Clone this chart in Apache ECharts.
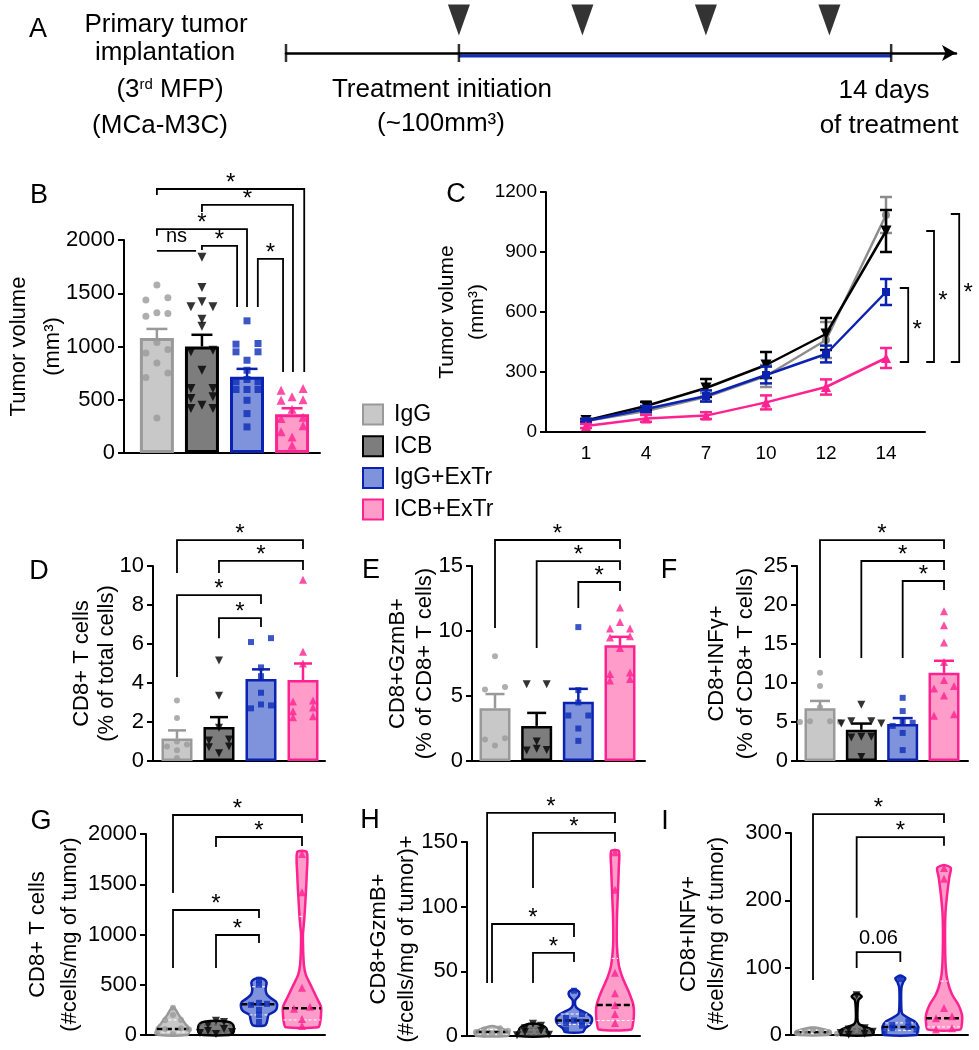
<!DOCTYPE html>
<html><head><meta charset="utf-8"><title>chart</title>
<script src="https://cdn.jsdelivr.net/npm/echarts@6.0.0/dist/echarts.min.js"></script>
<style>html,body{margin:0;padding:0;background:#fff;}#chart{width:979px;height:1050px;}</style>
</head><body><div id="chart"></div>
<script>
const FF = "'Liberation Sans', Arial, Helvetica, sans-serif";
const groups = ['IgG', 'ICB', 'IgG+ExTr', 'ICB+ExTr'];

// ---------- data ----------
const doseDays = [0, 4, 8, 12];
const timelineMarks = [-5.6, 0, 14];

const bMean = [1080, 1000, 715, 365];
const bSem = [85, 110, 75, 55];
const bPts = [
  [1577, 1458, 1436, 1317, 1310, 1285, 1038, 972, 940, 846, 752, 708, 329],
  [1837, 1555, 1420, 1373, 1373, 1257, 1191, 965, 950, 777, 605, 605, 527, 511, 448, 417, 417],
  [1241, 1028, 1022, 950, 950, 871, 777, 690, 668, 668, 596, 596, 596, 495, 370, 245],
  [605, 589, 527, 500, 495, 410, 335, 325, 255, 200, 150, 72]
];
const bBrackets = [
  [0, 3.27, 2479, 2423, 761, '*'],
  [1, 3.02, 2329, 2263, 761, '*'],
  [0, 2.0, 2103, 2040, 1371, '*'],
  [1, 1.78, 1944, 1906, 1371, '*'],
  [0, 0.87, 1897, 1897, 1897, 'ns'],
  [2.24, 2.8, 1822, 1371, 761, '*']
];

const cDays = ['1', '4', '7', '10', '12', '14'];
const cMean = [
  [55, 105, 175, 280, 460, 1085],
  [58, 130, 220, 335, 490, 1005],
  [55, 115, 180, 285, 390, 700],
  [30, 68, 82, 148, 225, 370]
];
const cSem = [
  [8, 12, 20, 55, 90, 90],
  [8, 20, 45, 65, 80, 105],
  [8, 15, 28, 42, 42, 65],
  [10, 17, 17, 35, 38, 50]
];
const cBrackets = [
  [5.23, 5.37, 720, 350, 5.52, 535, '*'],
  [5.67, 5.80, 1005, 350, 5.95, 680, '*'],
  [6.08, 6.22, 1090, 350, 6.37, 720, '*']
];

const dMean = [1.15, 1.75, 4.2, 4.15];
const dSem = [0.42, 0.5, 0.5, 0.85];
const dPts = [
  [3.1, 2.2, 1.0, 0.85, 0.75, 0.55, 0.15],
  [5.15, 3.35, 1.7, 1.1, 1.05, 0.75, 0.7, 0.4],
  [6.3, 6.1, 4.8, 4.35, 3.5, 2.9, 2.85, 2.7],
  [9.3, 5.6, 5.0, 3.1, 3.05, 2.75, 2.55, 2.3, 2.25]
];
const dBrackets = [
  [0, 3, 11.33, 9.64, 10.87, '*'],
  [1, 3, 10.26, 9.64, 9.8, '*'],
  [0, 2, 8.51, 4.31, 8.05, '*'],
  [1, 2, 7.33, 6.3, 6.87, '*']
];

const eMean = [4.05, 2.7, 4.55, 8.9];
const eSem = [1.1, 1.0, 1.0, 0.65];
const ePts = [
  [8.05, 5.7, 5.5, 1.75, 1.65, 1.2],
  [5.9, 5.9, 1.5, 0.95, 0.85, 0.8],
  [10.3, 5.45, 4.5, 3.5, 3.5, 2.5, 1.55],
  [11.8, 10.7, 10.2, 10.2, 9.6, 9.5, 8.7, 6.8, 6.7, 6.3, 6.2]
];
const eBrackets = [
  [0, 3, 17.0, 10.23, 16.3, '*'],
  [1, 3, 15.38, 8.69, 14.7, '*'],
  [2, 3, 13.77, 11.77, 13.08, '*']
];

const fMean = [6.75, 4.0, 4.75, 11.3];
const fSem = [0.95, 0.8, 0.75, 1.55];
const fPts = [
  [11.3, 9.6, 6.9, 5.1, 5.1, 5.0, 5.0],
  [7.2, 5.1, 5.1, 4.8, 4.8, 3.1, 3.1, 3.0, 0.5],
  [8.1, 6.4, 5.0, 4.9, 4.5, 3.6, 1.4],
  [19.2, 17.4, 15.2, 12.7, 10.4, 9.6, 9.3, 8.4, 6.0, 5.8]
];
const fBrackets = [
  [0, 3, 28.33, 13.2, 27.18, '*'],
  [1, 3, 25.64, 13.2, 24.49, '*'],
  [2, 3, 23.08, 13.2, 21.92, '*']
];

const gPts = [
  [270, 200, 150, 148, 66, 60, 55, 20, 10],
  [143, 130, 100, 60, 40, 30, 20, 10],
  [550, 500, 320, 310, 300, 250, 200, 130],
  [1800, 1420, 470, 280, 260, 160, 90]
];
const gViolin = [
  [[0, 0.75], [30, 0.85], [66, 0.85], [110, 0.65], [150, 0.5], [200, 0.3], [250, 0.15], [272, 0.05]],
  [[0, 0.7], [20, 0.9], [60, 0.95], [100, 0.9], [125, 0.75], [140, 0.3]],
  [[95, 0.3], [120, 0.4], [160, 0.45], [200, 0.5], [240, 0.85], [280, 0.95], [330, 0.9], [370, 0.6], [410, 0.4], [460, 0.35], [520, 0.4], [550, 0.3], [565, 0.1]],
  [[76, 0.85], [120, 0.95], [200, 1.0], [280, 1.0], [380, 0.75], [480, 0.5], [600, 0.2], [700, 0.1], [850, 0.06], [1000, 0.05], [1150, 0.12], [1400, 0.2], [1600, 0.25], [1820, 0.25]]
];
const gMedian = [60, 40, 305, 265];
const gQuart = [[30, 150], [20, 100], [200, 480], [150, 1180]];
const gBrackets = [
  [0, 3, 2189, 1413, 2109, '*'],
  [1, 3, 1970, 1871, 1881, '*'],
  [0, 2, 1244, 667, 1164, '*'],
  [1, 2, 995, 667, 915, '*']
];

const hPts = [
  [6, 5, 4, 3, 2, 1.5, 1],
  [9.5, 8, 6, 4, 3, 1, 0.5],
  [35, 17, 14, 12, 11, 10, 8, 5],
  [142, 113, 49, 33, 24, 17, 10]
];
const hViolin = [
  [[0, 0.8], [2, 0.9], [4, 0.8], [6, 0.45], [7.5, 0.1]],
  [[0, 0.8], [2, 0.85], [4, 0.75], [6, 0.7], [8, 0.5], [9.5, 0.2]],
  [[3, 0.45], [6, 0.6], [9, 0.85], [12, 0.95], [15, 0.9], [18, 0.6], [21, 0.2], [24, 0.06], [28, 0.08], [31, 0.25], [34, 0.27], [36, 0.05]],
  [[5, 0.85], [10, 0.95], [18, 1.0], [25, 0.95], [35, 0.7], [45, 0.4], [55, 0.2], [70, 0.1], [90, 0.1], [110, 0.15], [130, 0.2], [143, 0.2]]
];
const hMedian = [3, 3, 12, 24];
const hQuart = [[1.5, 5], [1, 6], [9, 17], [12, 60]];
const hBrackets = [
  [-0.12, 3, 172.5, 41, 164.7, '*'],
  [1, 3, 157, 114.5, 150, '*'],
  [0, 2, 86.6, 41, 76.6, '*'],
  [1, 2, 64.2, 41, 57.2, '*']
];

const iPts = [
  [8, 6, 5, 4, 3, 2, 1],
  [59, 10, 8, 5, 3, 2, 0.5],
  [83, 20, 15, 12, 10, 8, 5],
  [248, 232, 40, 28, 25, 10, 8]
];
const iViolin = [
  [[0, 0.8], [3, 1], [6, 0.9], [9, 0.5], [11, 0.1]],
  [[0, 0.85], [4, 0.95], [8, 0.85], [12, 0.5], [16, 0.15], [22, 0.05], [40, 0.05], [52, 0.1], [57, 0.28], [61, 0.1]],
  [[0, 0.9], [5, 0.95], [12, 1], [20, 0.8], [26, 0.4], [32, 0.1], [45, 0.05], [70, 0.06], [78, 0.15], [84, 0.28], [88, 0.05]],
  [[8, 0.9], [18, 1], [30, 1], [45, 0.8], [60, 0.45], [80, 0.2], [100, 0.1], [140, 0.06], [180, 0.08], [210, 0.18], [235, 0.3], [248, 0.38], [252, 0.1]]
];
const iMedian = [4, 5, 12, 25];
const iQuart = [[2, 7], [2, 9], [7, 18], [12, 80]];
const iBrackets = [
  [0, 3, 328, 81.7, 315, '*'],
  [1, 3, 294, 174, 281, '*'],
  [1, 2, 123, 99.6, 108.5, '0.06']
];

// ---------- styles / layout ----------
const fillColors = ['#c8c8c8', '#7d7d7d', '#7f93dc', '#ff9cc9'];
const edgeColors = ['#999999', '#000000', '#0b22b0', '#ff2290'];
const pointColors = ['#9a9a9a', '#000000', '#0d2cb8', '#ff2290'];
const lineColors = ['#8c8c8c', '#000000', '#0b22b0', '#ff2290'];
const symbols = ['circle', 'triangle', 'rect', 'triangle'];
const symbolRot = [0, 180, 0, 0];

const L = {
  A: {left: 286, top: 3, width: 670, height: 50, xmin: -5.6, xmax: 16.1, ymax: 1},
  B: {left: 124, top: 240, width: 196, height: 213, xmin: -0.73, xmax: 3.62, ymax: 2000, int: 500},
  C: {left: 546, top: 192, width: 379, height: 240, xmin: -0.667, xmax: 5.65, ymax: 1200, int: 300},
  D: {left: 153, top: 566, width: 172, height: 195, xmin: -0.571, xmax: 3.524, ymax: 10, int: 2},
  E: {left: 472, top: 566, width: 173, height: 195, xmin: -0.552, xmax: 3.6, ymax: 15, int: 5},
  F: {left: 797, top: 566, width: 171, height: 195, xmin: -0.556, xmax: 3.58, ymax: 25, int: 5},
  G: {left: 146, top: 834, width: 179, height: 201, xmin: -0.628, xmax: 3.535, ymax: 2000, int: 500},
  H: {left: 467, top: 842, width: 173, height: 194, xmin: -0.61, xmax: 3.61, ymax: 150, int: 50},
  I: {left: 791, top: 833, width: 177, height: 202, xmin: -0.504, xmax: 3.55, ymax: 300, int: 100}
};
const keys = ['A', 'B', 'C', 'D', 'E', 'F', 'G', 'H', 'I'];
const GI = {}; keys.forEach((k, i) => GI[k] = i);

const yNames = {
  B: ['Tumor volume\n(mm³)', 54, 22, 34],
  C: ['Tumor volume\n(mm³)', 54, 21, 30],
  D: ['CD8+ T cells\n(% of total cells)', 34, 22, 25],
  E: ['CD8+GzmB+\n(% of CD8+ T cells)', 34, 22, 27],
  F: ['CD8+INFγ+\n(% of CD8+ T cells)', 37, 22, 29],
  G: ['CD8+ T cells\n(#cells/mg of tumor)', 60, 22, 32],
  H: ['CD8+GzmB+\n(#cells/mg of tumor)+', 46, 22, 28],
  I: ['CD8+INFγ+\n(#cells/mg of tumor)', 60, 22, 28]
};

const grids = keys.map(k => ({left: L[k].left, top: L[k].top, width: L[k].width, height: L[k].height, containLabel: false, outerBoundsMode: 'none'}));

const xAxes = keys.map(k => {
  const ax = {type: 'value', gridIndex: GI[k], min: L[k].xmin, max: L[k].xmax,
    axisLine: {show: true, onZero: false, lineStyle: {color: '#000', width: 2}},
    axisTick: {show: false}, axisLabel: {show: false}, splitLine: {show: false}};
  if (k === 'A') {
    ax.axisLine = {show: true, onZero: false, symbol: ['none', 'arrow'], symbolSize: [12, 14], lineStyle: {color: '#000', width: 2.5}};
  }
  if (k === 'C') {
    ax.axisLabel = {show: true, customValues: [0, 1, 2, 3, 4, 5], formatter: v => cDays[Math.round(v)], fontSize: 19, color: '#000', fontFamily: FF, margin: 12};
  }
  return ax;
});

const yAxes = keys.map(k => {
  if (k === 'A') return {type: 'value', gridIndex: 0, min: 0, max: 1, show: false};
  const n = yNames[k];
  return {type: 'value', gridIndex: GI[k], min: 0, max: L[k].ymax, interval: L[k].int,
    name: n[0], nameLocation: 'middle', nameRotate: 90, nameGap: n[1], nameMoveOverlap: false,
    nameTextStyle: {fontSize: n[2], lineHeight: n[3], color: '#000', fontFamily: FF},
    axisLine: {show: true, onZero: false, lineStyle: {color: '#000', width: 2}},
    axisTick: {show: true, inside: false, length: 6, lineStyle: {color: '#000', width: 2}},
    axisLabel: {fontSize: k === 'C' ? 19 : 22, color: '#000', fontFamily: FF, margin: 9, formatter: v => String(v)},
    splitLine: {show: false}};
});

// ---------- helpers ----------
function swarm(vals, pxY, binPx) {
  const s = vals.slice().sort((a, b) => b - a);
  const out = []; let bin = [];
  const flush = () => {
    const n = bin.length, offs = [];
    if (n % 2) offs.push(0);
    for (let k = 1; offs.length < n; k++) { offs.push(k); if (offs.length < n) offs.push(-k); }
    bin.forEach((v, j) => out.push([offs[j], v]));
    bin = [];
  };
  s.forEach(v => { if (bin.length && (bin[0] - v) * pxY > binPx) flush(); bin.push(v); });
  flush();
  return out;
}

function st(c, lw, dash) { const o = {stroke: c, lineWidth: lw, fill: null}; if (dash) o.lineDash = dash; return o; }

function errSeries(k, xs, means, sems, colorFn, capPx, lw, both, z) {
  return {type: 'custom', xAxisIndex: GI[k], yAxisIndex: GI[k], silent: true, z: z, clip: false,
    data: means.map((m, j) => [xs[j], m, sems[j]]),
    renderItem: (p, api) => {
      const x = api.value(0), m = api.value(1), s = api.value(2);
      const t = api.coord([x, m + s]);
      const b = api.coord([x, both ? m - s : m]);
      const c = colorFn(p.dataIndex);
      const ch = [
        {type: 'line', shape: {x1: t[0], y1: t[1], x2: b[0], y2: b[1]}, style: st(c, lw)},
        {type: 'line', shape: {x1: t[0] - capPx / 2, y1: t[1], x2: t[0] + capPx / 2, y2: t[1]}, style: st(c, lw)}
      ];
      if (both) ch.push({type: 'line', shape: {x1: b[0] - capPx / 2, y1: b[1], x2: b[0] + capPx / 2, y2: b[1]}, style: st(c, lw)});
      return {type: 'group', children: ch};
    }};
}

function bracketSeries(k, br) {
  return {type: 'custom', xAxisIndex: GI[k], yAxisIndex: GI[k], silent: true, z: 6, clip: false,
    data: br.map(b => [b[0], b[2]]),
    renderItem: (p, api) => {
      const [x1, x2, yT, yL, yR, lab] = br[p.dataIndex];
      const a = api.coord([x1, yL]), b = api.coord([x1, yT]), c = api.coord([x2, yT]), d = api.coord([x2, yR]);
      const star = lab === '*';
      return {type: 'group', children: [
        {type: 'polyline', shape: {points: [a, b, c, d]}, style: st('#000', 1.8)},
        {type: 'text', x: (b[0] + c[0]) / 2, y: star ? b[1] - 6 : b[1] - 4,
          style: {text: lab, fill: '#000', fontSize: star ? 24 : 20, fontFamily: FF, align: 'center', verticalAlign: star ? 'middle' : 'bottom'}}
      ]};
    }};
}

function vBracketSeries(k, br) {
  return {type: 'custom', xAxisIndex: GI[k], yAxisIndex: GI[k], silent: true, z: 6, clip: false,
    data: br.map(b => [b[1], b[2]]),
    renderItem: (p, api) => {
      const [xt, xl, yT, yB, xLab, yLab, lab] = br[p.dataIndex];
      const a = api.coord([xt, yT]), b = api.coord([xl, yT]), c = api.coord([xl, yB]), d = api.coord([xt, yB]);
      const t = api.coord([xLab, yLab]);
      return {type: 'group', children: [
        {type: 'polyline', shape: {points: [a, b, c, d]}, style: st('#000', 1.8)},
        {type: 'text', x: t[0], y: t[1] + 5, style: {text: lab, fill: '#000', fontSize: 24, fontFamily: FF, align: 'center', verticalAlign: 'middle'}}
      ]};
    }};
}

function violinSeries(k, profiles, medians, quarts, maxHw) {
  return {type: 'custom', xAxisIndex: GI[k], yAxisIndex: GI[k], silent: true, z: 2, clip: false,
    data: profiles.map((pr, i) => [i, pr[0][0]]),
    renderItem: (p, api) => {
      const i = p.dataIndex, pr = profiles[i];
      const c0 = api.coord([i, 0])[0];
      const R = pr.map(([v, d]) => [c0 + d * maxHw, api.coord([i, v])[1]]);
      const Lf = pr.slice().reverse().map(([v, d]) => [c0 - d * maxHw, api.coord([i, v])[1]]);
      const hw = v => {
        for (let j = 0; j < pr.length - 1; j++) {
          if (v >= pr[j][0] && v <= pr[j + 1][0]) {
            const t = (v - pr[j][0]) / (pr[j + 1][0] - pr[j][0]);
            return (pr[j][1] + t * (pr[j + 1][1] - pr[j][1])) * maxHw;
          }
        }
        return pr[0][1] * maxHw;
      };
      const ch = [{type: 'polygon', shape: {points: R.concat(Lf), smooth: 0.25},
        style: {fill: fillColors[i], stroke: edgeColors[i], lineWidth: 2.5}}];
      quarts[i].forEach(q => {
        const y = api.coord([i, q])[1], w = hw(q);
        ch.push({type: 'line', shape: {x1: c0 - w, y1: y, x2: c0 + w, y2: y}, style: st(i === 1 ? '#555' : '#ffffff', 1, [3, 2])});
      });
      const ym = api.coord([i, medians[i]])[1], wm = hw(medians[i]);
      ch.push({type: 'line', shape: {x1: c0 - wm, y1: ym, x2: c0 + wm, y2: ym}, style: st(i === 1 ? '#666' : '#000', 2.5, [6, 3])});
      return {type: 'group', children: ch};
    }};
}

function pointSeries(k, pts, binPx, stepPx, sizes) {
  const pxY = L[k].height / L[k].ymax;
  const pxX = L[k].width / (L[k].xmax - L[k].xmin);
  return groups.map((g, i) => ({type: 'scatter', xAxisIndex: GI[k], yAxisIndex: GI[k], silent: true, z: 4,
    data: swarm(pts[i], pxY, binPx).map(([slot, v]) => [i + slot * stepPx / pxX, v]),
    symbol: symbols[i], symbolRotate: symbolRot[i], symbolSize: sizes[i],
    itemStyle: {color: pointColors[i]}}));
}

const series = [];

// ---------- A: timeline ----------
series.push({type: 'line', xAxisIndex: 0, yAxisIndex: 0, data: [[timelineMarks[1], -0.06], [timelineMarks[2], -0.06]],
  symbol: 'none', lineStyle: {color: '#1530c0', width: 3}, clip: false, silent: true, z: 1});
series.push({type: 'scatter', xAxisIndex: 0, yAxisIndex: 0, data: timelineMarks.map(d => [d, 0]),
  symbol: 'rect', symbolSize: [2.5, 18], itemStyle: {color: '#000'}, clip: false, silent: true, z: 5});
series.push({type: 'scatter', xAxisIndex: 0, yAxisIndex: 0, data: doseDays.map(d => [d, 0.66]),
  symbol: 'triangle', symbolRotate: 180, symbolSize: [22, 31], itemStyle: {color: '#000'}, clip: false, silent: true});

// ---------- bar panels ----------
function barPanel(k, means, sems, pts, br, o) {
  groups.forEach((g, i) => {
    series.push({type: 'bar', name: g, xAxisIndex: GI[k], yAxisIndex: GI[k], data: [[i, means[i]]],
      barWidth: o.barW, barGap: '-100%', silent: true, z: 2,
      itemStyle: {color: fillColors[i], borderColor: edgeColors[i], borderWidth: o.bw}});
  });
  pointSeries(k, pts, o.bin, o.step, o.sizes).forEach(s => series.push(s));
  series.push(errSeries(k, [0, 1, 2, 3], means, sems, j => edgeColors[j], o.cap, 2.5, false, 5));
  series.push(bracketSeries(k, br));
}
barPanel('B', bMean, bSem, bPts, bBrackets, {barW: 34, bw: 3, bin: 6, step: 11, cap: 21, sizes: [7, 9, 7, 9]});
barPanel('D', dMean, dSem, dPts, dBrackets, {barW: 31, bw: 2.5, bin: 6, step: 10, cap: 18, sizes: [6, 8, 6, 8]});
barPanel('E', eMean, eSem, ePts, eBrackets, {barW: 31, bw: 2.5, bin: 6, step: 10, cap: 19, sizes: [6, 8, 6, 8]});
barPanel('F', fMean, fSem, fPts, fBrackets, {barW: 31, bw: 2.5, bin: 6, step: 10, cap: 20, sizes: [6, 8, 6, 8]});

// ---------- C: growth curves ----------
const cSym = [['circle', 8, 0], ['triangle', 11, 180], ['rect', 8, 0], ['triangle', 10, 0]];
groups.forEach((g, gi) => {
  series.push({type: 'line', name: g, xAxisIndex: GI.C, yAxisIndex: GI.C, silent: true, z: 3 + gi,
    data: cMean[gi].map((v, j) => [j, v]),
    symbol: cSym[gi][0], symbolSize: cSym[gi][1], symbolRotate: cSym[gi][2], showSymbol: true,
    lineStyle: {color: lineColors[gi], width: 2.5}, itemStyle: {color: lineColors[gi]}});
  series.push(errSeries('C', [0, 1, 2, 3, 4, 5], cMean[gi], cSem[gi], () => lineColors[gi], 12, 2.5, true, 3 + gi));
});
series.push(vBracketSeries('C', cBrackets));

// ---------- violin panels ----------
function violinPanel(k, profiles, medians, quarts, pts, br, maxHw) {
  series.push(violinSeries(k, profiles, medians, quarts, maxHw));
  pointSeries(k, pts, 5, 8, [6, 8, 6, 8]).forEach(s => series.push(s));
  series.push(bracketSeries(k, br));
}
violinPanel('G', gViolin, gMedian, gQuart, gPts, gBrackets, 19);
violinPanel('H', hViolin, hMedian, hQuart, hPts, hBrackets, 19);
violinPanel('I', iViolin, iMedian, iQuart, iPts, iBrackets, 18);

// ---------- legend ----------
const legends = groups.map((g, i) => ({
  show: true, orient: 'vertical', left: 362, top: 403 + i * 31.7, padding: 0,
  itemWidth: 20, itemHeight: 20, selectedMode: false,
  data: [{name: g, icon: 'rect', itemStyle: {color: fillColors[i], borderColor: edgeColors[i], borderWidth: 2}}],
  textStyle: {fontSize: 23, lineHeight: 20, color: '#000', fontFamily: FF, padding: [0, 0, 0, 6]}
}));

// ---------- texts ----------
const T = (x, y, text, fs, extra) => ({type: 'text', x: x, y: y, silent: true,
  style: Object.assign({text: text, fill: '#000', fontSize: fs, fontFamily: FF, align: 'center', verticalAlign: 'middle'}, extra || {})});
const graphic = [
  T(38, 30, 'A', 27),
  T(166, 25, 'Primary tumor', 26),
  T(165, 53, 'implantation', 26),
  T(170, 90, '(3{s|rd} MFP)', 26, {rich: {s: {fontSize: 15, verticalAlign: 'top', fontFamily: FF, fill: '#000'}}}),
  T(160, 126, '(MCa-M3C)', 26),
  T(442, 90, 'Treatment initiation', 26),
  T(441, 124, '(~100mm³)', 26),
  T(884, 91, '14 days', 26),
  T(889, 126, 'of treatment', 26),
  T(39, 196, 'B', 27), T(456, 195, 'C', 27),
  T(39, 572, 'D', 27), T(371, 571, 'E', 27), T(669, 571, 'F', 27),
  T(41, 822, 'G', 27), T(370, 821, 'H', 27), T(665, 822, 'I', 27)
];

const chart = echarts.init(document.getElementById('chart'), null, {renderer: 'canvas'});
chart.setOption({
  animation: false,
  backgroundColor: '#ffffff',
  textStyle: {fontFamily: FF},
  grid: grids,
  xAxis: xAxes,
  yAxis: yAxes,
  legend: legends,
  graphic: graphic,
  series: series
});
</script></body></html>
